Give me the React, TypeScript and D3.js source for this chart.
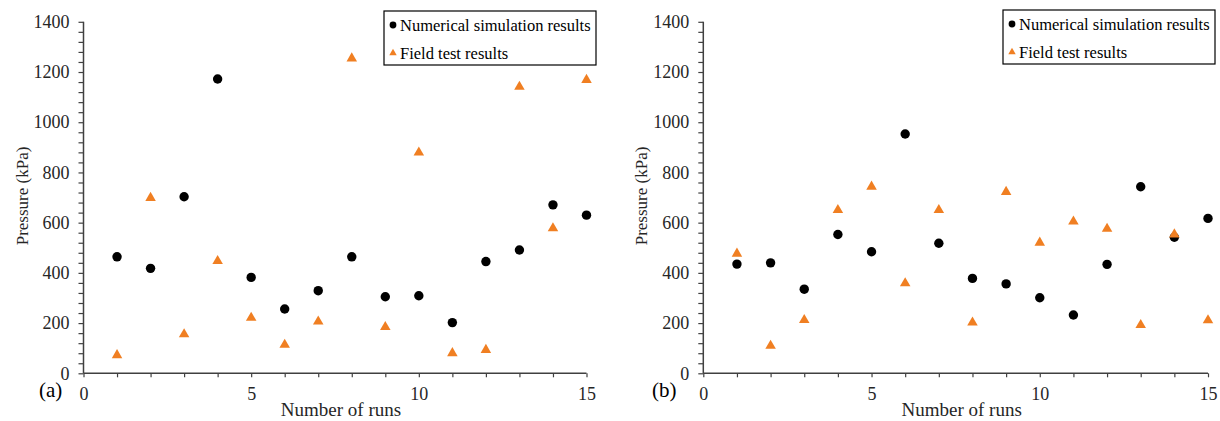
import React, { useEffect, useRef } from "react";
import * as d3 from "d3";

const runs = [1, 2, 3, 4, 5, 6, 7, 8, 9, 10, 11, 12, 13, 14, 15];
const simA = [464, 418, 703, 1172, 382, 256, 329, 464, 305, 309, 202, 445, 491, 671, 630];
const fieldA = [76, 702, 159, 451, 225, 117, 210, 1258, 188, 883, 84, 97, 1145, 581, 1172];
const simB = [435, 440, 335, 553, 484, 953, 518, 378, 356, 301, 232, 434, 743, 542, 617];
const fieldB = [480, 113, 216, 654, 747, 362, 654, 206, 726, 524, 608, 579, 196, 557, 215];
const xLabels = [0, 5, 10, 15];
const seriesNames = ["Numerical simulation results", "Field test results"];
const panelTags = ["(a)", "(b)"];

const ORANGE = "#F07F22";
const FONT = "'Liberation Serif', 'DejaVu Serif', serif";

export default function App() {
  const ref = useRef<SVGSVGElement | null>(null);

  useEffect(() => {
    const svg = d3.select(ref.current);
    svg.selectAll("*").remove();

    const panels = [
      { sim: simA, field: fieldA, x0: 83.5, x1: 586.5, tag: panelTags[0], tx: 39, lx: 384, ly: 11 },
      { sim: simB, field: fieldB, x0: 703.3, x1: 1208, tag: panelTags[1], tx: 652, lx: 1003, ly: 10 },
    ];

    const setFont = (sel: any, size: number) =>
      sel.attr("font-family", FONT).attr("font-size", size).style("font-family", FONT).style("font-size", `${size}px`);

    panels.forEach((p) => {
      const x = d3.scaleLinear().domain([0, 15]).range([p.x0, p.x1]);
      const y = d3.scaleLinear().domain([0, 1400]).range([373.3, 21.8]);
      const g = svg.append("g");

      // y axis
      const yAxis = d3
        .axisLeft(y)
        .tickValues(d3.range(0, 1401, 40))
        .tickSize(5)
        .tickPadding(9)
        .tickFormat((d: any) => (d % 200 === 0 ? String(d) : ""));
      const ya = g.append("g").attr("transform", `translate(${p.x0},0)`).call(yAxis);
      setFont(ya, 18);
      ya.select(".domain").attr("stroke", "#404040").attr("stroke-width", 1.5).attr("d", `M0,${y(0)}V${y(1400)}`);
      ya.selectAll(".tick line").attr("stroke", "#404040").attr("stroke-width", 1.2);
      setFont(ya.selectAll(".tick text"), 18).attr("fill", "#262626");

      // x axis
      const xAxis = d3
        .axisBottom(x)
        .tickValues(d3.range(0, 16, 1))
        .tickSize(4)
        .tickPadding(10)
        .tickFormat((d: any) => (xLabels.includes(d) ? String(d) : ""));
      const xa = g.append("g").attr("transform", `translate(0,${y(0)})`).call(xAxis);
      setFont(xa, 18);
      xa.select(".domain").attr("stroke", "#404040").attr("stroke-width", 1.5).attr("d", `M${p.x0},0H${p.x1}`);
      xa.selectAll(".tick line").attr("stroke", "#404040").attr("stroke-width", 1.2);
      setFont(xa.selectAll(".tick text"), 18).attr("fill", "#262626");

      // axis titles
      setFont(
        g.append("text")
          .attr("transform", `translate(${p.x0 - 56},196) rotate(-90)`)
          .attr("text-anchor", "middle")
          .attr("fill", "#262626")
          .text("Pressure (kPa)"),
        17
      );
      setFont(
        g.append("text")
          .attr("x", (p.x0 + p.x1) / 2 + 6)
          .attr("y", 416)
          .attr("text-anchor", "middle")
          .attr("fill", "#262626")
          .text("Number of runs"),
        19
      );
      setFont(
        g.append("text")
          .attr("x", p.tx)
          .attr("y", 397)
          .attr("fill", "#000")
          .text(p.tag),
        21
      );

      // data: simulation circles first, field triangles drawn on top
      g.append("g")
        .selectAll("circle")
        .data(runs)
        .join("circle")
        .attr("cx", (d) => x(d))
        .attr("cy", (d, i) => y(p.sim[i]))
        .attr("r", 4.7)
        .attr("fill", "#000");
      const tri = d3.symbol().type(d3.symbolTriangle).size(48);
      g.append("g")
        .selectAll("path")
        .data(runs)
        .join("path")
        .attr("d", tri as any)
        .attr("transform", (d, i) => `translate(${x(d)},${y(p.field[i]) + 0.9})`)
        .attr("fill", ORANGE);

      // legend
      const lg = g.append("g").attr("transform", `translate(${p.lx},${p.ly})`);
      lg.append("rect")
        .attr("x", 0)
        .attr("y", 0)
        .attr("width", 212)
        .attr("height", 54)
        .attr("fill", "#fff")
        .attr("stroke", "#000")
        .attr("stroke-width", 1.2);
      lg.append("circle").attr("cx", 9).attr("cy", 14).attr("r", 3.4).attr("fill", "#000");
      lg.append("path")
        .attr("d", d3.symbol().type(d3.symbolTriangle).size(24)() as string)
        .attr("transform", "translate(9,42)")
        .attr("fill", ORANGE);
      setFont(lg.append("text").attr("x", 16).attr("y", 20).attr("fill", "#000").text(seriesNames[0]), 16.5);
      setFont(lg.append("text").attr("x", 16).attr("y", 48).attr("fill", "#000").text(seriesNames[1]), 16.5);
    });
  }, []);

  return (
    <svg
      ref={ref}
      width={1220}
      height={421}
      style={{ position: "absolute", left: 0, top: 0, background: "#fff", fontFamily: FONT }}
    />
  );
}
